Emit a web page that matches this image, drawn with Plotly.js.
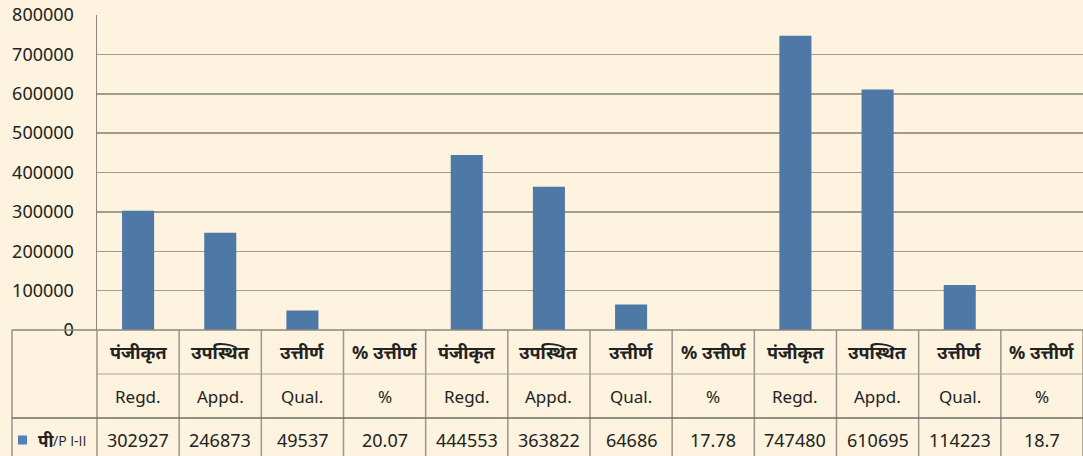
<!DOCTYPE html>
<html>
<head>
<meta charset="utf-8">
<script src="https://cdn.plot.ly/plotly-3.0.1.min.js"></script>
<style>
  html, body { margin: 0; padding: 0; background: #fdf3de; }
  #chart { width: 1083px; height: 456px; }
</style>
</head>
<body>
<div id="chart"></div>
<script>
// ---- data ----
const hindiHeaders = ["पंजीकृत", "उपस्थित", "उत्तीर्ण", "% उत्तीर्ण",
                      "पंजीकृत", "उपस्थित", "उत्तीर्ण", "% उत्तीर्ण",
                      "पंजीकृत", "उपस्थित", "उत्तीर्ण", "% उत्तीर्ण"];
const englishHeaders = ["Regd.", "Appd.", "Qual.", "%",
                        "Regd.", "Appd.", "Qual.", "%",
                        "Regd.", "Appd.", "Qual.", "%"];
const seriesName = "पी";
const seriesSuffix = "/P I-II";
const values = [302927, 246873, 49537, 20.07,
                444553, 363822, 64686, 17.78,
                747480, 610695, 114223, 18.7];
const yTicks = [0, 100000, 200000, 300000, 400000, 500000, 600000, 700000, 800000];

// ---- styles ----
const BG = "#fdf3de";
const BAR = "#4e79a6";
const GRID = "#a09c90";
const FONT = "Noto Sans, Noto Sans Devanagari, FreeSans, DejaVu Sans, sans-serif";
const LATIN = "Open Sans, Liberation Sans, Arial, sans-serif";
const TXT = "#222222";

const n = values.length;
const xs = values.map((_, i) => i);

// layout geometry (pixels)
const W = 1083, H = 456;
const mL = 97, mR = 0, mT = 15, mB = 126;
const plotW = W - mL - mR, plotH = H - mT - mB;
const px2x = p => p / plotW;          // horizontal pixels -> paper
const px2y = p => p / plotH;          // vertical pixels -> paper
const rowH = [44, 44, 44];

const rowTop = [0, -px2y(rowH[0]), -px2y(rowH[0] + rowH[1])];
const rowBottom = [-px2y(rowH[0]), -px2y(rowH[0] + rowH[1]), -px2y(rowH[0] + rowH[1] + rowH[2])];
const rowMid = rowTop.map((t, i) => (t + rowBottom[i]) / 2);
const leftEdge = -px2x(85);

const shapes = [];
const annotations = [];
const line = (x0, y0, x1, y1, color, width) => shapes.push({
  type: "line", xref: "paper", yref: "paper", x0, y0, x1, y1,
  line: { color, width }, layer: "above"
});

// vertical separators (column boundaries)
for (let k = 0; k <= n; k++) {
  line(k / n, 0, k / n, rowBottom[2], "#9a968c", 1.5);
}
// left outer border
line(leftEdge, 0, leftEdge, rowBottom[2], "#9a968c", 1.5);
// top border of table (x axis)
line(leftEdge, 0, 1, 0, "#8a877e", 1.5);
// between header rows (only in data columns)
line(0, rowBottom[0], 1, rowBottom[0], "#a8a498", 1);
// between header and data row
line(leftEdge, rowBottom[1], 1, rowBottom[1], "#6f6c64", 1.5);

for (let i = 0; i < n; i++) {
  const cx = (i + 0.5) / n;
  annotations.push({
    xref: "paper", yref: "paper", x: cx, y: rowMid[0], showarrow: false,
    text: "<b>" + hindiHeaders[i] + "</b>",
    font: { family: FONT, size: 18, color: TXT }, xanchor: "center", yanchor: "middle"
  });
  annotations.push({
    xref: "paper", yref: "paper", x: cx, y: rowMid[1], showarrow: false,
    text: englishHeaders[i],
    font: { family: FONT, size: 17, color: TXT }, xanchor: "center", yanchor: "middle"
  });
  annotations.push({
    xref: "paper", yref: "paper", x: cx, y: rowMid[2], showarrow: false,
    text: String(values[i]),
    font: { family: FONT, size: 18, color: TXT }, xanchor: "center", yanchor: "middle"
  });
}

// legend key in data row
shapes.push({
  type: "rect", xref: "paper", yref: "paper",
  x0: -px2x(79), x1: -px2x(70),
  y0: rowMid[2] - px2y(4.5), y1: rowMid[2] + px2y(4.5),
  fillcolor: "#4f81bd", line: { width: 0 }, layer: "above"
});
annotations.push({
  xref: "paper", yref: "paper", x: -px2x(61), y: rowMid[2], showarrow: false,
  text: "<b>" + seriesName + "</b>",
  font: { family: FONT, size: 17, color: TXT }, xanchor: "left", yanchor: "middle"
});
annotations.push({
  xref: "paper", yref: "paper", x: -px2x(46), y: rowMid[2], showarrow: false,
  text: seriesSuffix,
  font: { family: LATIN, size: 14, color: TXT }, xanchor: "left", yanchor: "middle"
});

const trace = {
  type: "bar",
  x: xs,
  y: values,
  width: 0.39,
  marker: { color: BAR, line: { width: 0 } },
  hoverinfo: "skip",
  name: seriesName + seriesSuffix
};

const layout = {
  width: W, height: H,
  margin: { l: mL, r: mR, t: mT, b: mB, pad: 0 },
  paper_bgcolor: BG, plot_bgcolor: BG,
  showlegend: false,
  font: { family: FONT, color: TXT },
  xaxis: {
    range: [-0.5, n - 0.5],
    showticklabels: false, showgrid: false, zeroline: false,
    ticks: "", fixedrange: true, showline: false
  },
  yaxis: {
    range: [0, 800000],
    tickvals: yTicks,
    ticktext: yTicks.map(String),
    showgrid: true, gridcolor: GRID, gridwidth: 1.5,
    zeroline: false,
    showline: true, linecolor: "#8a877e", linewidth: 1.5,
    ticks: "", ticklabelstandoff: 18,
    tickfont: { family: FONT, size: 18, color: TXT },
    fixedrange: true
  },
  shapes, annotations
};

Plotly.newPlot("chart", [trace], layout, { displayModeBar: false, staticPlot: true });
</script>
</body>
</html>
